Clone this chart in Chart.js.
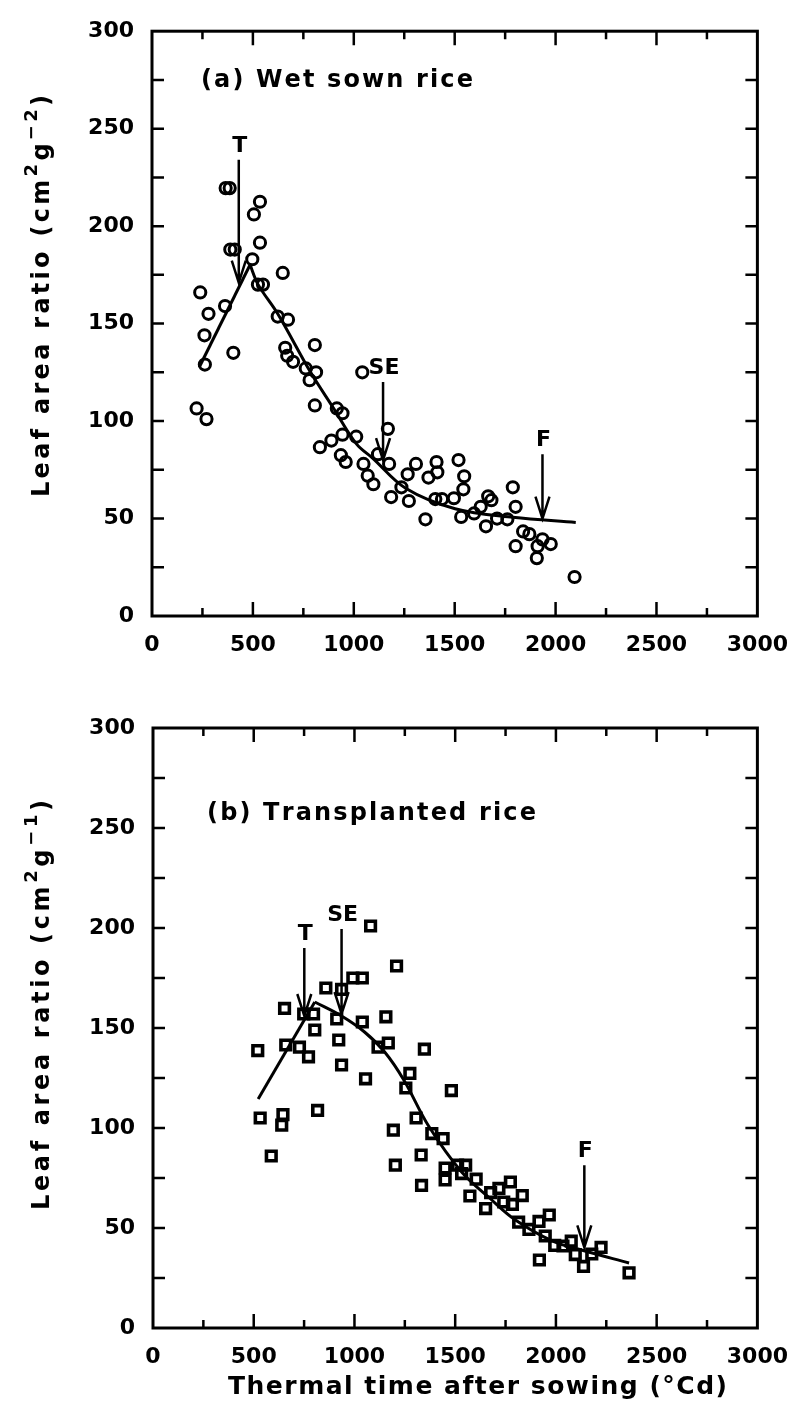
<!DOCTYPE html>
<html>
<head>
<meta charset="utf-8">
<title>Leaf area ratio vs thermal time</title>
<script src="https://cdn.jsdelivr.net/npm/chart.js@4.4.0/dist/chart.umd.min.js"></script>
<style>
  html, body { margin: 0; padding: 0; background: #fff; }
  #wrap { position: relative; width: 804px; height: 1417px; }
  canvas { position: absolute; left: 0; }
  #chartA { top: 0; }
  #chartB { top: 680px; }
</style>
</head>
<body>
<div id="wrap">
  <canvas id="chartA" width="804" height="680"></canvas>
  <canvas id="chartB" width="804" height="737"></canvas>
</div>
<script>
// ---- (a) wet sown rice: observations ----
const wetX = [239, 280, 260, 262, 221, 270, 362, 403, 365, 385, 388, 410, 497, 505, 535, 535, 525, 550,
  648, 623, 674, 660, 670, 699, 807, 762, 813, 781, 807, 832, 889, 916, 944, 944, 1012, 936, 960,
  1048, 1069, 1097, 1042, 1120, 1169, 1175, 1185, 1236, 1273, 1267, 1308, 1355, 1370, 1410, 1414,
  1404, 1437, 1496, 1519, 1547, 1543, 1532, 1596, 1629, 1666, 1682, 1655, 1710, 1761, 1788, 1802,
  1802, 1839, 1870, 1911, 1907, 1935, 1976, 2094];
const wetY = [166, 155, 144, 129, 106.5, 101, 159, 135, 219.5, 219.5, 188, 188, 183, 206, 212.5, 191.5, 170, 170,
  176, 153.6, 152, 137.6, 133.5, 130.4, 139, 127, 125, 121, 108, 86.6, 90, 106.5, 104, 93, 92, 82.5, 79,
  78, 72, 67.6, 125, 83, 96, 78, 61, 66, 59, 72.7, 78, 49.6, 71, 79, 73.7,
  60, 60, 60.4, 80, 71.7, 65, 50.8, 52.6, 56, 61.4, 59.4, 46, 50, 49.6, 66, 56,
  35.8, 43.4, 42, 35.8, 29.7, 39.3, 36.9, 20];

// fitted curve (rising limb, then declining limb)
const wetRiseX = [234, 486];
const wetRiseY = [127.6, 180.2];
const wetFallX = [486, 526, 623, 786, 899, 1013, 1093, 1257, 1502, 1788, 2100];
const wetFallY = [180.2, 170, 155, 125, 106.7, 88.3, 81, 65.5, 55, 50.6, 48];

// stage markers: transplanting, stem elongation, flowering
const wetStageLabels = ['T', 'SE', 'F'];
const wetStageX = [430, 1145, 1935];
const wetStageTop = [234, 120, 83];
const wetStageTip = [171, 80, 50];

// ---- (b) transplanted rice: observations ----
const tpX = [520, 532, 639, 645, 587, 653, 659, 727, 772, 748, 803, 817, 858, 797, 912, 922, 936, 936,
  992, 1039, 1039, 1080, 1055, 1117, 1168, 1156, 1209, 1193, 1203, 1255, 1275, 1347, 1306, 1331, 1333,
  1384, 1440, 1481, 1450, 1450, 1512, 1532, 1552, 1604, 1573, 1651, 1676, 1717, 1741, 1774, 1784,
  1833, 1815, 1866, 1916, 1967, 1947, 1918, 1994, 2076, 2096, 2137, 2178, 2224, 2363, 2035];
const tpY = [138.7, 105, 101.4, 106.7, 86, 159.8, 141.5, 140.4, 135.6, 157, 149, 108.8, 170, 157, 154.5, 144, 131.5, 169.3,
  175, 175, 153, 201, 124.6, 140.4, 142.5, 155.6, 181, 98.9, 81.4, 120, 127.3, 139.4, 105, 86.5, 71.3,
  97.2, 94.7, 118.7, 80, 74, 81.4, 77.2, 81.4, 74.4, 66, 59.7, 67.7, 69.8, 63, 73, 61.8,
  66.2, 52.9, 49.3, 53.3, 56.5, 46, 34, 41.3, 43.4, 36.7, 30.8, 37, 40.3, 27.6, 41];

const tpRiseX = [522, 803];
const tpRiseY = [114.5, 163];
const tpFallX = [803, 936, 1050, 1150, 1245, 1368, 1532, 1676, 1799, 1984, 2127, 2363];
const tpFallY = [163, 156, 148, 138, 124, 101, 78, 64.5, 54, 43.4, 39, 32.5];

const tpStageLabels = ['T', 'SE', 'F'];
const tpStageX = [751, 936, 2141];
const tpStageTop = [190, 199.5, 81.4];
const tpStageTip = [156, 157, 40.3];

// axes
const xMax = 3000, xStep = 500, xMinor = 250;
const yMax = 300, yStep = 50, yMinor = 25;

const FONT = "'DejaVu Sans', sans-serif";
Chart.defaults.font.family = FONT;
Chart.defaults.color = '#000';

const zip = (xs, ys) => xs.map((x, i) => ({ x, y: ys[i] }));

// text with even letter spacing, stretched to a given width
function charsWidth(ctx, s) {
  let w = 0;
  for (const ch of s) w += ctx.measureText(ch).width;
  return w;
}
function drawSpaced(ctx, s, x, y, sp) {
  for (const ch of s) {
    ctx.fillText(ch, x, y);
    x += ctx.measureText(ch).width + sp;
  }
  return x;
}
function drawFitted(ctx, s, x, y, width) {
  const n = [...s].length;
  const sp = (width - charsWidth(ctx, s)) / (n - 1);
  drawSpaced(ctx, s, x, y, sp);
}

// y title with raised exponents, drawn rotated
function drawYTitle(ctx, parts, cx, cy, width) {
  const base = 'bold 24px ' + FONT, sup = 'bold 18px ' + FONT;
  let natural = 0, n = 0;
  for (const p of parts) {
    ctx.font = p.sup ? sup : base;
    natural += charsWidth(ctx, p.t);
    n += [...p.t].length;
  }
  const sp = (width - natural) / (n - 1);
  ctx.save();
  ctx.translate(cx, cy);
  ctx.rotate(-Math.PI / 2);
  ctx.textBaseline = 'alphabetic';
  ctx.textAlign = 'left';
  let x = -width / 2;
  for (const p of parts) {
    ctx.font = p.sup ? sup : base;
    x = drawSpaced(ctx, p.t, x, p.sup ? -3 : 9, sp);
  }
  ctx.restore();
}

const decor = {
  id: 'decor',
  afterDatasetsDraw(chart, args, o) {
    const { ctx, chartArea: a, scales: { x, y } } = chart;
    ctx.save();
    ctx.strokeStyle = '#000';
    ctx.fillStyle = '#000';

    // frame with inward ticks on all four sides
    ctx.lineWidth = 3;
    ctx.strokeRect(a.left, a.top, a.right - a.left, a.bottom - a.top);
    ctx.lineWidth = 2.5;
    ctx.beginPath();
    for (let v = xMinor; v < xMax; v += xMinor) {
      const px = x.getPixelForValue(v);
      const len = v % xStep === 0 ? 14 : 8;
      ctx.moveTo(px, a.bottom); ctx.lineTo(px, a.bottom - len);
      ctx.moveTo(px, a.top); ctx.lineTo(px, a.top + len);
    }
    for (let v = yMinor; v < yMax; v += yMinor) {
      const py = y.getPixelForValue(v);
      ctx.moveTo(a.left, py); ctx.lineTo(a.left + 12, py);
      ctx.moveTo(a.right, py); ctx.lineTo(a.right - 12, py);
    }
    ctx.stroke();

    // stage arrows
    ctx.lineWidth = 2.5;
    ctx.font = 'bold 22px ' + FONT;
    ctx.textAlign = 'center';
    ctx.textBaseline = 'middle';
    o.stages.labels.forEach((lab, i) => {
      const px = x.getPixelForValue(o.stages.x[i]);
      const top = y.getPixelForValue(o.stages.top[i]);
      const tip = y.getPixelForValue(o.stages.tip[i]);
      ctx.beginPath();
      ctx.moveTo(px, top); ctx.lineTo(px, tip);
      ctx.moveTo(px - 7, tip - 22); ctx.lineTo(px, tip); ctx.lineTo(px + 7, tip - 22);
      ctx.stroke();
      ctx.fillText(lab, px + 1, top - 14);
    });

    // panel label
    ctx.font = 'bold 24px ' + FONT;
    ctx.textAlign = 'left';
    drawFitted(ctx, o.label.text, o.label.x, o.label.y, o.label.w);

    // axis titles
    drawYTitle(ctx, o.yTitle.parts, 40, o.yTitle.cy, o.yTitle.w);
    if (o.xTitle) {
      ctx.font = 'bold 25px ' + FONT;
      ctx.textAlign = 'left';
      ctx.textBaseline = 'middle';
      drawFitted(ctx, o.xTitle.text, o.xTitle.x, o.xTitle.y, o.xTitle.w);
    }
    ctx.restore();
  }
};

function makePanel(id, p) {
  const tickFont = { size: 22, weight: 'bold' };
  const isRect = p.marker === 'rect';
  return new Chart(document.getElementById(id), {
    type: 'scatter',
    data: {
      datasets: [
        {
          data: zip(p.xs, p.ys),
          pointStyle: p.marker,
          pointRadius: isRect ? 6.8 : 5.6,
          borderWidth: isRect ? 3.6 : 3,
          borderColor: '#000',
          backgroundColor: 'rgba(0,0,0,0)'
        },
        {
          type: 'line',
          data: zip(p.riseX, p.riseY),
          borderColor: '#000', borderWidth: 3, pointRadius: 0, fill: false
        },
        {
          type: 'line',
          data: zip(p.fallX, p.fallY),
          tension: 0.35,
          borderColor: '#000', borderWidth: 3, pointRadius: 0, fill: false
        }
      ]
    },
    options: {
      responsive: false,
      devicePixelRatio: 1,
      animation: false,
      layout: { padding: { top: p.padTop, right: 36, bottom: 0, left: 0 } },
      plugins: {
        legend: { display: false },
        tooltip: { enabled: false },
        decor: { stages: p.stages, label: p.label, yTitle: p.yTitle, xTitle: p.xTitle }
      },
      scales: {
        x: {
          type: 'linear', min: 0, max: xMax,
          grid: { display: false, drawTicks: false },
          border: { display: false },
          ticks: { stepSize: xStep, padding: 16, maxRotation: 0, autoSkip: false, font: tickFont,
            callback: v => String(v) },
          afterFit: s => { s.height = p.xAxisH; }
        },
        y: {
          type: 'linear', min: 0, max: yMax,
          grid: { display: false, drawTicks: false },
          border: { display: false },
          ticks: { stepSize: yStep, padding: 18, font: tickFont, callback: v => String(v) },
          afterFit: s => { s.width = p.yAxisW; }
        }
      }
    },
    plugins: [decor]
  });
}

makePanel('chartA', {
  xs: wetX, ys: wetY, marker: 'circle',
  riseX: wetRiseX, riseY: wetRiseY, fallX: wetFallX, fallY: wetFallY,
  stages: { labels: wetStageLabels, x: wetStageX, top: wetStageTop, tip: wetStageTip },
  label: { text: '(a) Wet sown rice', x: 201, y: 81, w: 272 },
  yTitle: { parts: [{ t: 'Leaf area ratio (cm' }, { t: '2', sup: true }, { t: 'g' }, { t: '\u22122', sup: true }, { t: ')' }], cy: 296, w: 402 },
  padTop: 18, xAxisH: 64, yAxisW: 152
});

makePanel('chartB', {
  xs: tpX, ys: tpY, marker: 'rect',
  riseX: tpRiseX, riseY: tpRiseY, fallX: tpFallX, fallY: tpFallY,
  stages: { labels: tpStageLabels, x: tpStageX, top: tpStageTop, tip: tpStageTip },
  label: { text: '(b) Transplanted rice', x: 207, y: 134, w: 329 },
  yTitle: { parts: [{ t: 'Leaf area ratio (cm' }, { t: '2', sup: true }, { t: 'g' }, { t: '\u22121', sup: true }, { t: ')' }], cy: 325, w: 410 },
  xTitle: { text: 'Thermal time after sowing (\u00b0Cd)', x: 228, y: 707, w: 499 },
  padTop: 48, xAxisH: 89, yAxisW: 153
});
</script>
</body>
</html>
